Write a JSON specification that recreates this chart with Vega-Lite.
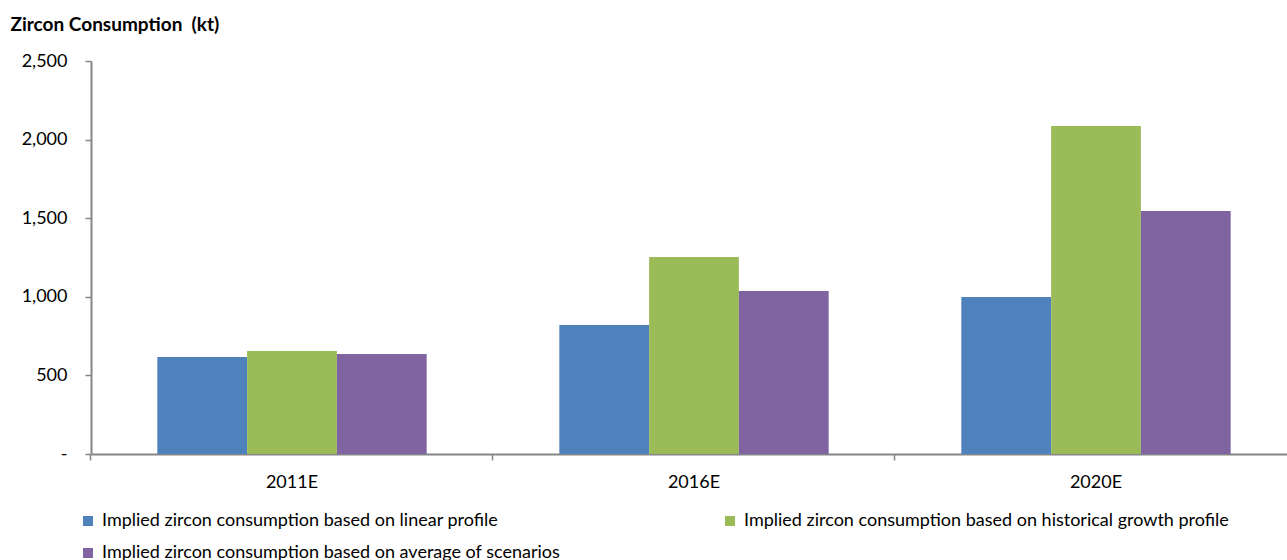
{
  "$schema": "https://vega.github.io/schema/vega-lite/v6.json",
  "width": 1206,
  "height": 393,
  "autosize": "none",
  "padding": {"left": 91, "top": 61, "right": 0, "bottom": 106},
  "background": "white",
  "config": {"font": "Lato", "view": {"stroke": null}},
  "data": {"values": [
    {"year": "2011E", "series": "Implied zircon consumption based on linear profile", "value": 617},
    {"year": "2011E", "series": "Implied zircon consumption based on historical growth profile", "value": 655},
    {"year": "2011E", "series": "Implied zircon consumption based on average of scenarios", "value": 636},
    {"year": "2016E", "series": "Implied zircon consumption based on linear profile", "value": 821},
    {"year": "2016E", "series": "Implied zircon consumption based on historical growth profile", "value": 1253},
    {"year": "2016E", "series": "Implied zircon consumption based on average of scenarios", "value": 1037},
    {"year": "2020E", "series": "Implied zircon consumption based on linear profile", "value": 999},
    {"year": "2020E", "series": "Implied zircon consumption based on historical growth profile", "value": 2087},
    {"year": "2020E", "series": "Implied zircon consumption based on average of scenarios", "value": 1546}
  ]},
  "mark": {"type": "bar"},
  "encoding": {
    "x": {
      "field": "year", "type": "nominal",
      "scale": {"paddingInner": 0.33, "paddingOuter": 0.165},
      "axis": {
        "title": null, "labelAngle": 0, "labelFontSize": 18, "labelColor": "#000000",
        "labelPadding": 13, "bandPosition": -0.2463, "domainColor": "#868686", "domainWidth": 2,
        "tickColor": "#868686", "tickSize": 6, "tickWidth": 1.5
      }
    },
    "xOffset": {
      "field": "series", "type": "nominal",
      "sort": ["Implied zircon consumption based on linear profile", "Implied zircon consumption based on historical growth profile", "Implied zircon consumption based on average of scenarios"],
      "scale": {"paddingInner": 0, "paddingOuter": 0}
    },
    "y": {
      "field": "value", "type": "quantitative",
      "scale": {"domain": [0, 2500], "nice": false},
      "axis": {
        "values": [0, 500, 1000, 1500, 2000, 2500],
        "labelExpr": "datum.value === 0 ? '-' : format(datum.value, ',')",
        "labelFontSize": 18, "labelColor": "#000000", "labelPadding": 18,
        "grid": false, "domainColor": "#868686", "domainWidth": 2,
        "tickColor": "#868686", "tickSize": 6, "tickWidth": 1.5,
        "title": "Zircon Consumption\u00a0 (kt)", "titleAngle": 0, "titleX": -81, "titleY": -37,
        "titleAlign": "left", "titleBaseline": "middle", "titleFontSize": 19, "titleFontWeight": "bold", "titleColor": "#000000"
      }
    },
    "color": {
      "field": "series", "type": "nominal",
      "sort": ["Implied zircon consumption based on linear profile", "Implied zircon consumption based on historical growth profile", "Implied zircon consumption based on average of scenarios"],
      "scale": {
        "domain": ["Implied zircon consumption based on linear profile", "Implied zircon consumption based on historical growth profile", "Implied zircon consumption based on average of scenarios"],
        "range": ["#4F81BD", "#9BBB59", "#8064A2"]
      },
      "legend": {
        "title": null, "orient": "none", "legendX": -12, "legendY": 451,
        "direction": "horizontal", "columns": 2, "columnPadding": 160, "rowPadding": 14,
        "symbolType": "square", "symbolSize": 100, "symbolStrokeWidth": 0, "symbolOffset": 0,
        "labelFontSize": 18, "labelColor": "#000000", "labelOffset": 5, "labelLimit": 700
      }
    }
  }
}
